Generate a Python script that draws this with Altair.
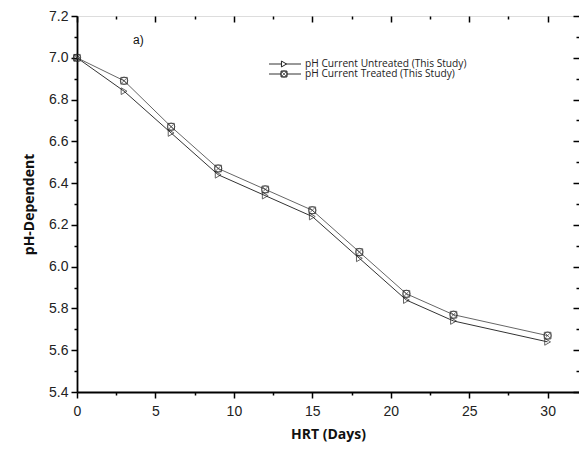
import altair as alt
import pandas as pd

hrt = [0, 3, 6, 9, 12, 15, 18, 21, 24, 30]
ph_untreated = [7.00, 6.84, 6.64, 6.44, 6.34, 6.24, 6.04, 5.84, 5.74, 5.64]
ph_treated = [7.00, 6.89, 6.67, 6.47, 6.37, 6.27, 6.07, 5.87, 5.77, 5.67]
series_names = ["pH Current Untreated (This Study)", "pH Current Treated (This Study)"]

x_ticks = [round(i * 2.5, 1) for i in range(13)]
y_ticks = [round(5.4 + i * 0.1, 1) for i in range(19)]

df = pd.DataFrame({
    "hrt": hrt + hrt,
    "ph": ph_untreated + ph_treated,
    "series": [series_names[0]] * len(hrt) + [series_names[1]] * len(hrt),
})
df_u = df[df.series == series_names[0]]
df_t = df[df.series == series_names[1]]

FONT = "Liberation Sans"
xscale = alt.Scale(domain=[0, 32], nice=False, zero=False)
yscale = alt.Scale(domain=[5.4, 7.2], nice=False, zero=False)

x_major = "datum.value % 5 === 0"
y_major = "round(datum.value * 10) % 2 === 0"

x_bottom = alt.Axis(
    orient="bottom", values=x_ticks, title="HRT  (Days)",
    labelExpr=f"{x_major} ? datum.label : ''", labelFlush=False,
    tickSize={"condition": {"test": x_major, "value": 6}, "value": 3},
    tickColor="black", tickWidth=1.5, domainColor="black", domainWidth=1.8,
    labelFont=FONT, labelFontSize=14, labelColor="#222", labelPadding=6,
    titleFont="Open Sans", titleFontSize=14, titleFontWeight="bold", titleColor="#111",
    titlePadding=9, grid=False,
)
y_left = alt.Axis(
    orient="left", values=y_ticks, title="pH-Dependent",
    labelExpr=f"{y_major} ? format(datum.value, '.1f') : ''", labelFlush=False,
    tickSize={"condition": {"test": y_major, "value": 6}, "value": 3},
    tickColor="black", tickWidth=1.5, domainColor="black", domainWidth=1.8,
    labelFont=FONT, labelFontSize=14, labelColor="#222", labelPadding=3,
    titleFont="Open Sans", titleFontSize=14, titleFontWeight="bold", titleColor="#111",
    titlePadding=12, grid=False,
)
x_top = alt.Axis(
    orient="top", values=x_ticks, title=None, labels=False, domain=False,
    tickSize={"condition": {"test": x_major, "value": -6}, "value": -3},
    tickColor="black", tickWidth=1.5, grid=False,
)
y_right = alt.Axis(
    orient="right", values=y_ticks, title=None, labels=False, domain=False,
    tickSize={"condition": {"test": y_major, "value": -6}, "value": -3},
    tickColor="black", tickWidth=1.5, grid=False,
)

lines = alt.Chart(df).mark_line(strokeWidth=1).encode(
    x=alt.X("hrt:Q", scale=xscale, axis=x_bottom),
    y=alt.Y("ph:Q", scale=yscale, axis=y_left),
    color=alt.Color("series:N", scale=alt.Scale(domain=series_names, range=["#333333", "#666666"]), legend=None),
)

pts_u = alt.Chart(df_u).mark_point(shape="triangle-right", size=45, filled=False, color="#222", strokeWidth=1).encode(
    x=alt.X("hrt:Q", scale=xscale, axis=x_top),
    y=alt.Y("ph:Q", scale=yscale, axis=y_right),
)

XPATH = "M-0.7,-0.7L0.7,0.7M-0.7,0.7L0.7,-0.7"

def treated_layer(shape, size):
    return alt.Chart(df_t).mark_point(shape=shape, size=size, filled=False, color="#222", strokeWidth=0.9).encode(
        x=alt.X("hrt:Q", scale=xscale, axis=None),
        y=alt.Y("ph:Q", scale=yscale, axis=None),
    )

pts_t_sq = treated_layer("square", 45)
pts_t_ci = treated_layer("circle", 55)
pts_t_x = treated_layer(XPATH, 45)

# manual legend (pixel placement inside plot area)
one = pd.DataFrame({"k": [0]})
LEG_Y = [48, 58]
LEG_RULE_X = (192, 224)
LEG_SYM_X = 207
LEG_TEXT_X = 228

legend_layers = []
for row, name in enumerate(series_names):
    ypix = alt.value(LEG_Y[row])
    legend_layers.append(
        alt.Chart(one).mark_rule(color="#333", strokeWidth=1).encode(
            x=alt.value(LEG_RULE_X[0]), x2=alt.value(LEG_RULE_X[1]), y=ypix)
    )
    if row == 0:
        legend_layers.append(
            alt.Chart(one).mark_point(shape="triangle-right", size=35, filled=True, fill="white",
                                      stroke="#222", strokeWidth=1, opacity=1).encode(
                x=alt.value(LEG_SYM_X), y=ypix)
        )
    else:
        legend_layers.append(
            alt.Chart(one).mark_point(shape="square", size=35, filled=True, fill="white",
                                      stroke="#222", strokeWidth=1, opacity=1).encode(
                x=alt.value(LEG_SYM_X), y=ypix)
        )
        legend_layers.append(
            alt.Chart(one).mark_point(shape="circle", size=40, filled=False, color="#222",
                                      strokeWidth=0.9).encode(x=alt.value(LEG_SYM_X), y=ypix)
        )
        legend_layers.append(
            alt.Chart(one).mark_point(shape=XPATH, size=35, filled=False, color="#222",
                                      strokeWidth=0.9).encode(x=alt.value(LEG_SYM_X), y=ypix)
        )
    legend_layers.append(
        alt.Chart(one).mark_text(align="left", baseline="middle", font="Open Sans", fontSize=10.2,
                                 color="#222", text=name).encode(x=alt.value(LEG_TEXT_X), y=ypix)
    )

panel = alt.Chart(one).mark_text(align="left", baseline="middle", font=FONT, fontSize=12,
                                 color="#111", text="a)").encode(
    x=alt.value(56), y=alt.value(24),
)

chart = alt.layer(
    lines, pts_u, pts_t_sq, pts_t_ci, pts_t_x, *legend_layers, panel,
).resolve_axis(x="independent", y="independent").resolve_scale(
    color="independent", y="shared", x="shared"
).properties(
    width=502, height=376,
    autosize=alt.AutoSizeParams(type="none"),
    padding={"left": 69, "top": 8, "right": 0, "bottom": 52},
).configure_view(stroke="black", strokeWidth=1.2).configure(background="white")

chart.save("out.html", embed_options={"renderer": "svg", "actions": False})
